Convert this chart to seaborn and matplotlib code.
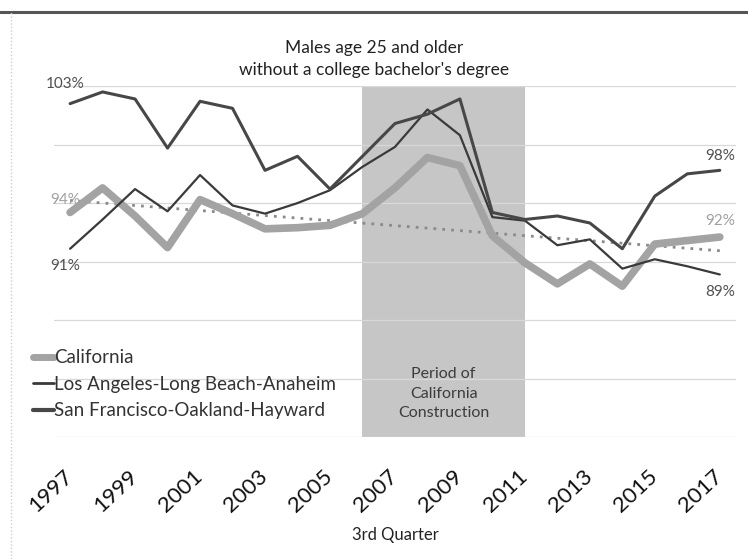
import numpy as np
import pandas as pd
import seaborn as sns
from matplotlib import pyplot as plt
from matplotlib.lines import Line2D

years = list(range(1997, 2018))

# share of jobs held by males 25+ without a bachelor's degree (%), 3rd quarter
california = [94.2, 96.3, 93.9, 91.2, 95.3, 94.1, 92.8, 92.9, 93.1, 94.1, 96.3,
              98.9, 98.2, 92.2, 89.9, 88.1, 89.8, 87.9, 91.5, 91.8, 92.1]
los_angeles = [91.1, 93.6, 96.2, 94.3, 97.4, 94.8, 94.1, 95.0, 96.1, 98.1, 99.8,
               103.0, 100.8, 93.8, 93.5, 91.4, 91.9, 89.4, 90.2, 89.6, 88.9]
san_francisco = [103.5, 104.5, 103.9, 99.7, 103.7, 103.1, 97.8, 99.0, 96.2, 99.0, 101.8,
                 102.6, 103.9, 94.2, 93.6, 93.9, 93.3, 91.1, 95.6, 97.5, 97.8]

series_names = ["California", "Los Angeles-Long Beach-Anaheim", "San Francisco-Oakland-Hayward"]
start_labels = ["94%", "91%", "103%"]
end_labels = ["92%", "89%", "98%"]
construction_start, construction_end = 2006, 2011

df = pd.DataFrame({"year": years, series_names[0]: california,
                   series_names[1]: los_angeles, series_names[2]: san_francisco})

sns.set_theme(style="white")
plt.rcParams["font.family"] = ["Lato", "DejaVu Sans"]

fig = plt.figure(figsize=(7.48, 5.59), dpi=100)
ax = fig.add_axes([0.072, 0.218, 0.912, 0.628])

ax.axvspan(construction_start, construction_end, color="#c6c6c6", lw=0, zorder=0)

colors = ["#a3a3a3", "#3a3a3a", "#474747"]
widths = [5.5, 1.6, 2.2]
for name, c, w in zip(series_names, colors, widths):
    sns.lineplot(data=df, x="year", y=name, color=c, lw=w, ax=ax, zorder=3)

# linear trend of California
sns.regplot(data=df, x="year", y=series_names[0], scatter=False, ci=None, ax=ax,
            line_kws=dict(color="#8a8a8a", lw=2, ls=(0, (1, 2.2)), zorder=2))

ax.set_xlim(1996.5, 2017.5)
ax.set_ylim(75, 105)
ax.set_yticks(np.arange(75, 106, 5))
ax.set_yticklabels([])
ax.tick_params(axis="y", length=0)
ax.grid(axis="y", color="#d8d8d8", lw=0.9)
for s in ax.spines.values():
    s.set_visible(False)

ax.set_xticks(years[::2])
ax.set_xticklabels([str(y) for y in years[::2]], rotation=43, ha="right",
                   rotation_mode="anchor", va="center", fontsize=16, color="#111111")
ax.tick_params(axis="x", length=0, pad=26)
ax.set_ylabel("")
ax.set_xlabel("3rd Quarter", fontsize=12, color="#222222", labelpad=8)

# data labels at start and end
label_colors = ["#a0a0a0", "#505050", "#505050"]
vals = [california, los_angeles, san_francisco]
start_off = [1.1, -1.5, 1.7]
end_off = [1.4, -1.5, 1.2]
for v, sl, el, lc, so, eo in zip(vals, start_labels, end_labels, label_colors, start_off, end_off):
    ax.text(years[0] - 0.15, v[0] + so, sl, ha="center", va="center", fontsize=11, color=lc)
    ax.text(years[-1], v[-1] + eo, el, ha="center", va="center", fontsize=11, color=lc)

ax.text((construction_start + construction_end) / 2, 78.7, "Period of\nCalifornia\nConstruction",
        ha="center", va="center", fontsize=11.5, color="#3c3c3c", linespacing=1.5)

fig.text(0.5, 0.895, "Males age 25 and older\nwithout a college bachelor's degree",
         ha="center", va="center", fontsize=12.5, color="#222222", linespacing=1.45)

handles = [Line2D([], [], color=c, lw=w) for c, w in zip(colors, [5, 2, 3])]
ax.legend(handles, series_names, loc="upper left", bbox_to_anchor=(-0.03, 0.25),
          frameon=False, fontsize=13.5, handlelength=1.1, handletextpad=0.0,
          labelspacing=0.5, labelcolor="#333333", borderaxespad=0, borderpad=0)

# scanned page border
fig.add_artist(Line2D([0, 1], [0.979, 0.979], transform=fig.transFigure, color="#555555", lw=2.2))
fig.add_artist(Line2D([0.015, 0.015], [0, 0.979], transform=fig.transFigure, color="#cccccc",
                      lw=1, ls=(0, (1, 1.5))))

fig.savefig("out.png", dpi=100, facecolor="white")
